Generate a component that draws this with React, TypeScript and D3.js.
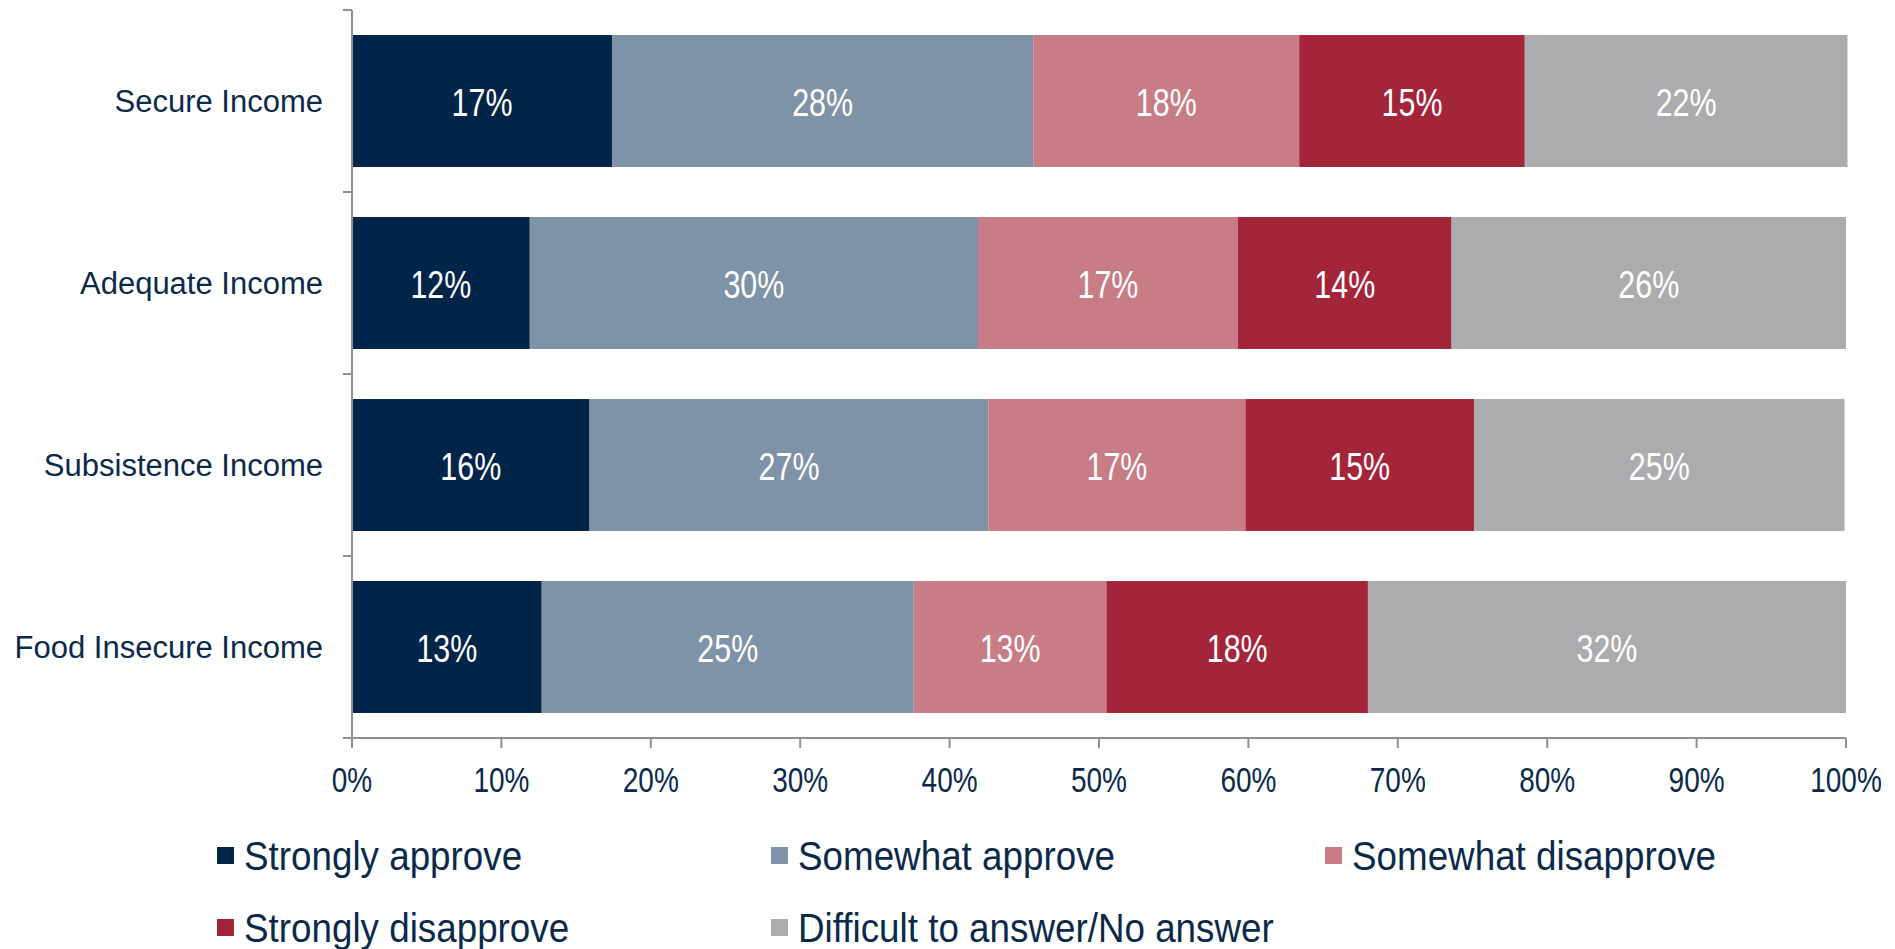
import React, { useMemo } from 'react';
import * as d3 from 'd3';

const categories = ['Secure Income', 'Adequate Income', 'Subsistence Income', 'Food Insecure Income'];
const seriesNames = ['Strongly approve', 'Somewhat approve', 'Somewhat disapprove', 'Strongly disapprove', 'Difficult to answer/No answer'];
const seriesColors = ['#002548', '#7f93a8', '#c87c86', '#a3253a', '#acacae'];

// values per category, in series order (percent)
const stronglyApprove = [17.4, 11.9, 15.9, 12.7];
const somewhatApprove = [28.2, 30.0, 26.7, 24.9];
const somewhatDisapprove = [17.8, 17.4, 17.2, 12.9];
const stronglyDisapprove = [15.1, 14.3, 15.3, 17.5];
const noAnswer = [21.6, 26.4, 24.8, 32.0];

const xTicks = [0, 10, 20, 30, 40, 50, 60, 70, 80, 90, 100];

const W = 1895;
const H = 949;
const TEXT = '#0b2a4a';
const AXIS = '#8c9099';
const font = '"Liberation Sans", Arial, sans-serif';

// no narrow font available, so squeeze the regular one horizontally
const Narrow: React.FC<{
  x: number;
  y: number;
  size: number;
  sx: number;
  fill: string;
  anchor?: string;
  children: React.ReactNode;
}> = ({ x, y, size, sx, fill, anchor = 'middle', children }) => (
  <text
    transform={`translate(${x},${y}) scale(${sx},1)`}
    textAnchor={anchor}
    dominantBaseline="central"
    fill={fill}
    fontFamily={font}
    fontSize={size}
  >
    {children}
  </text>
);

const App: React.FC = () => {
  const rows = useMemo(
    () =>
      categories.map((c, i) => ({
        cat: c,
        s0: stronglyApprove[i],
        s1: somewhatApprove[i],
        s2: somewhatDisapprove[i],
        s3: stronglyDisapprove[i],
        s4: noAnswer[i],
      })),
    []
  );

  const keys = ['s0', 's1', 's2', 's3', 's4'];
  const stacked = useMemo(() => d3.stack<any>().keys(keys)(rows), [rows]);

  const x = d3.scaleLinear().domain([0, 100]).range([352, 1846]);
  const y = d3.scaleBand<string>().domain(categories).range([10, 738]).paddingInner(0.275).paddingOuter(0.1375);
  const step = y.step();

  const legendCols = [217, 771, 1325];
  const legendRows = [856, 928];

  return (
    <svg width={W} height={H} style={{ position: 'absolute', left: 0, top: 0, background: '#fff' }}>
      {/* bars */}
      {stacked.map((layer, si) => (
        <g key={si} fill={seriesColors[si]}>
          {layer.map((d, ci) => (
            <rect
              key={ci}
              x={x(d[0])}
              y={y(d.data.cat)}
              width={x(d[1]) - x(d[0])}
              height={y.bandwidth()}
            />
          ))}
        </g>
      ))}
      {/* value labels */}
      {stacked.map((layer, si) => (
        <g key={'l' + si}>
          {layer.map((d, ci) => (
            <Narrow
              key={ci}
              x={(x(d[0]) + x(d[1])) / 2}
              y={(y(d.data.cat) as number) + y.bandwidth() / 2 + 1}
              size={39}
              sx={0.78}
              fill="#ffffff"
            >
              {Math.round(d[1] - d[0])}%
            </Narrow>
          ))}
        </g>
      ))}
      {/* y axis */}
      <line x1={352} x2={352} y1={10} y2={738} stroke={AXIS} strokeWidth={2} />
      {d3.range(categories.length + 1).map((i) => (
        <line key={'yt' + i} x1={343} x2={352} y1={10 + i * step} y2={10 + i * step} stroke={AXIS} strokeWidth={2} />
      ))}
      {categories.map((c) => (
        <text
          key={c}
          x={323}
          y={(y(c) as number) + y.bandwidth() / 2}
          textAnchor="end"
          dominantBaseline="central"
          fill={TEXT}
          fontFamily={font}
          fontSize={31}
        >
          {c}
        </text>
      ))}
      {/* x axis */}
      <line x1={351} x2={x(100)} y1={738} y2={738} stroke={AXIS} strokeWidth={2} />
      {xTicks.map((t) => (
        <g key={'xt' + t}>
          <line x1={x(t)} x2={x(t)} y1={738} y2={748} stroke={AXIS} strokeWidth={2} />
          <Narrow x={x(t)} y={780} size={35} sx={0.8} fill={TEXT}>
            {t}%
          </Narrow>
        </g>
      ))}
      {/* legend */}
      {seriesNames.map((name, i) => {
        const lx = legendCols[i % 3];
        const ly = legendRows[Math.floor(i / 3)];
        return (
          <g key={name}>
            <rect x={lx} y={ly - 9} width={17} height={17} fill={seriesColors[i]} />
            <Narrow x={lx + 27} y={ly} size={40} sx={0.92} fill={TEXT} anchor="start">
              {name}
            </Narrow>
          </g>
        );
      })}
    </svg>
  );
};

export default App;
